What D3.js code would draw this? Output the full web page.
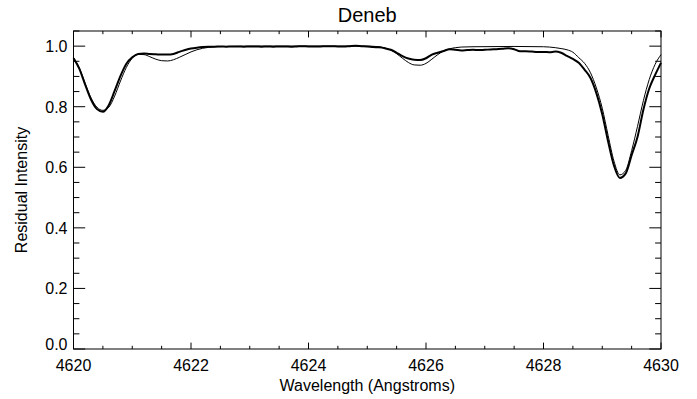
<!DOCTYPE html>
<html>
<head>
<meta charset="utf-8">
<script src="https://cdn.jsdelivr.net/npm/d3@7"></script>
<style>
  body { margin: 0; background: #fff; }
  text { font-family: "Liberation Sans", Arial, sans-serif; fill: #000; }
</style>
</head>
<body>
<script>
// Observed spectrum, sampled every 0.1 A from 4620 to 4630
const obsStart = 4620, obsStep = 0.1;
const obsFlux = [
  0.960, 0.925, 0.872, 0.823, 0.792, 0.783, 0.805, 0.852, 0.902, 0.942,
  0.963, 0.974, 0.976, 0.974, 0.973, 0.972, 0.972, 0.974, 0.981, 0.987,
  0.992, 0.995, 0.997, 0.998, 0.998, 0.999, 0.998, 0.999, 0.999, 0.998,
  0.999, 0.999, 0.998, 0.999, 0.998, 0.999, 0.999, 0.998, 0.999, 1.000,
  0.999, 0.999, 0.999, 1.000, 1.000, 0.999, 0.999, 1.000, 1.001, 1.000,
  0.999, 0.997, 0.996, 0.993, 0.988, 0.978, 0.967, 0.959, 0.955, 0.954,
  0.960, 0.972, 0.978, 0.984, 0.990, 0.988, 0.986, 0.987, 0.988, 0.987,
  0.988, 0.989, 0.990, 0.991, 0.993, 0.990, 0.983, 0.983, 0.982, 0.981,
  0.981, 0.980, 0.982, 0.978, 0.968, 0.958, 0.945, 0.922, 0.895, 0.845,
  0.775, 0.685, 0.605, 0.565, 0.580, 0.640, 0.700, 0.790, 0.860, 0.905,
  0.945
];

// Model spectrum
const modelWave = [
  4620.0, 4620.1, 4620.2, 4620.3, 4620.4, 4620.5, 4620.6, 4620.7, 4620.8, 4620.9,
  4621.0, 4621.1, 4621.2, 4621.3, 4621.4, 4621.5, 4621.6, 4621.7, 4621.8, 4621.9,
  4622.0, 4622.1, 4622.2, 4622.3, 4622.4, 4622.6, 4623.0, 4624.0, 4625.0, 4625.2,
  4625.3, 4625.4, 4625.5, 4625.6, 4625.7, 4625.8, 4625.9, 4626.0, 4626.1, 4626.2,
  4626.3, 4626.4, 4626.5, 4626.6, 4626.8, 4627.5, 4628.0, 4628.1, 4628.2, 4628.3,
  4628.4, 4628.5, 4628.6, 4628.7, 4628.8, 4628.9, 4629.0, 4629.1, 4629.2, 4629.3,
  4629.4, 4629.5, 4629.6, 4629.7, 4629.8, 4629.9, 4630.0
];
const modelFlux = [
  0.962, 0.928, 0.876, 0.828, 0.798, 0.788, 0.798, 0.835, 0.885, 0.930,
  0.960, 0.973, 0.972, 0.965, 0.957, 0.952, 0.951, 0.955, 0.963, 0.972,
  0.981, 0.988, 0.993, 0.996, 0.998, 0.999, 1.000, 1.000, 1.000, 0.998,
  0.994, 0.987, 0.975, 0.960, 0.946, 0.938, 0.937, 0.943, 0.957, 0.972,
  0.984, 0.991, 0.995, 0.997, 0.998, 0.999, 0.998, 0.997, 0.995, 0.992,
  0.988, 0.980, 0.962, 0.943, 0.912, 0.862, 0.795, 0.705, 0.620, 0.575,
  0.590, 0.655, 0.735, 0.820, 0.890, 0.940, 0.972
];

const xTicks = [4620, 4622, 4624, 4626, 4628, 4630];
const yTicks = [0.0, 0.2, 0.4, 0.6, 0.8, 1.0];

const W = 697, H = 399;
const margin = { top: 31, right: 36, bottom: 50, left: 73.5 };
const width = W - margin.left - margin.right;
const height = H - margin.top - margin.bottom;

const svg = d3.select("body").append("svg")
  .attr("width", W).attr("height", H);

const g = svg.append("g")
  .attr("transform", `translate(${margin.left},${margin.top})`);

const x = d3.scaleLinear().domain([4620, 4630]).range([0, width]);
const y = d3.scaleLinear().domain([0, 1.05]).range([height, 0]);

const obs = obsFlux.map((v, i) => [obsStart + i * obsStep, v]);
const model = modelWave.map((w, i) => [w, modelFlux[i]]);

const line = d3.line()
  .x(d => x(d[0])).y(d => y(d[1]))
  .curve(d3.curveMonotoneX);

g.append("path").datum(model)
  .attr("d", line).attr("fill", "none")
  .attr("stroke", "#000").attr("stroke-width", 1);

g.append("path").datum(obs)
  .attr("d", line).attr("fill", "none")
  .attr("stroke", "#000").attr("stroke-width", 2);

// plot frame
g.append("rect")
  .attr("width", width).attr("height", height)
  .attr("fill", "none").attr("stroke", "#000").attr("stroke-width", 1);

// ticks (inward on all four sides, IDL style)
const xMinor = d3.range(4620, 4630.001, 0.5);
const yMinor = d3.range(0, 1.0501, 0.05);
const xLen = t => (Math.abs(t / 2 - Math.round(t / 2)) < 1e-6 ? 6.4 : 3.2);
const yLen = t => (Math.abs(t * 5 - Math.round(t * 5)) < 1e-6 ? 11.7 : 5.9);

xMinor.forEach(t => {
  const l = xLen(t);
  g.append("line").attr("x1", x(t)).attr("x2", x(t))
    .attr("y1", height).attr("y2", height - l).attr("stroke", "#000");
  g.append("line").attr("x1", x(t)).attr("x2", x(t))
    .attr("y1", 0).attr("y2", l).attr("stroke", "#000");
});
yMinor.forEach(t => {
  const l = yLen(t);
  g.append("line").attr("y1", y(t)).attr("y2", y(t))
    .attr("x1", 0).attr("x2", l).attr("stroke", "#000");
  g.append("line").attr("y1", y(t)).attr("y2", y(t))
    .attr("x1", width).attr("x2", width - l).attr("stroke", "#000");
});

// tick labels
g.selectAll(".xl").data(xTicks).enter().append("text")
  .attr("x", d => x(d)).attr("y", height + 22)
  .attr("text-anchor", "middle").attr("font-size", "16px")
  .text(d => d);

g.selectAll(".yl").data(yTicks).enter().append("text")
  .attr("x", -6).attr("y", d => y(d) + 6 - (d === 0 ? 5 : 0))
  .attr("text-anchor", "end").attr("font-size", "16px")
  .text(d => d3.format(".1f")(d));

// titles
svg.append("text").attr("x", margin.left + width / 2).attr("y", 22)
  .attr("text-anchor", "middle").attr("font-size", "20px").text("Deneb");

svg.append("text").attr("x", margin.left + width / 2).attr("y", 391)
  .attr("text-anchor", "middle").attr("font-size", "16px")
  .text("Wavelength (Angstroms)");

svg.append("text")
  .attr("transform", `translate(27,${margin.top + height / 2}) rotate(-90)`)
  .attr("text-anchor", "middle").attr("font-size", "16px")
  .text("Residual Intensity");
</script>
</body>
</html>
